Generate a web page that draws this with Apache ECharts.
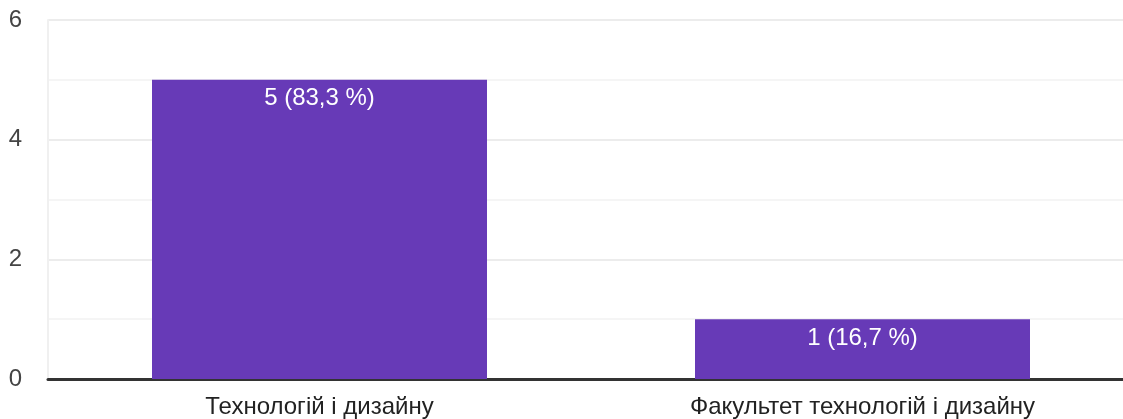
<!DOCTYPE html>
<html><head><meta charset="utf-8">
<script src="https://cdn.jsdelivr.net/npm/echarts@6/dist/echarts.min.js"></script>
<style>html,body{margin:0;padding:0;background:#fff;overflow:hidden;width:1123px;height:419px}#c{width:1134px;height:419px}</style>
</head><body><div id="c"></div>
<script>
const categories = ["Технологій і дизайну", "Факультет технологій і дизайну"];
const values = [5, 1];
const yTicks = [0, 2, 4, 6];

const total = values.reduce((a, b) => a + b, 0);
const chart = echarts.init(document.getElementById('c'));
const FF = 'Arial, Liberation Sans';
chart.setOption({
  animation: false,
  grid: { left: 48, top: 20, right: 0, height: 359 },
  xAxis: {
    type: 'category', data: categories,
    axisLine: { show: true, lineStyle: { color: '#333', width: 3 } },
    axisTick: { show: false },
    axisLabel: { color: '#222', fontSize: 24, fontFamily: FF, margin: 16 }
  },
  yAxis: {
    type: 'value', min: yTicks[0], max: yTicks[yTicks.length - 1], interval: 2,
    axisLine: { show: true, lineStyle: { color: '#f0f0f0', width: 2 } },
    axisTick: { show: false },
    axisLabel: { color: '#444', fontSize: 24, fontFamily: FF, margin: 26 },
    splitLine: { lineStyle: { color: '#ececec', width: 2 } },
    minorTick: { show: false, splitNumber: 2 },
    minorSplitLine: { show: true, lineStyle: { color: '#f5f5f5', width: 2 } }
  },
  series: [{
    type: 'bar', data: values, barWidth: 335,
    itemStyle: { color: '#673AB7' },
    label: {
      show: true, position: 'insideTop', distance: 7,
      color: '#fff', fontSize: 24, fontFamily: FF,
      formatter: p => p.value + ' (' + (p.value / total * 100).toFixed(1).replace('.', ',') + ' %)'
    }
  }]
});
</script></body></html>
